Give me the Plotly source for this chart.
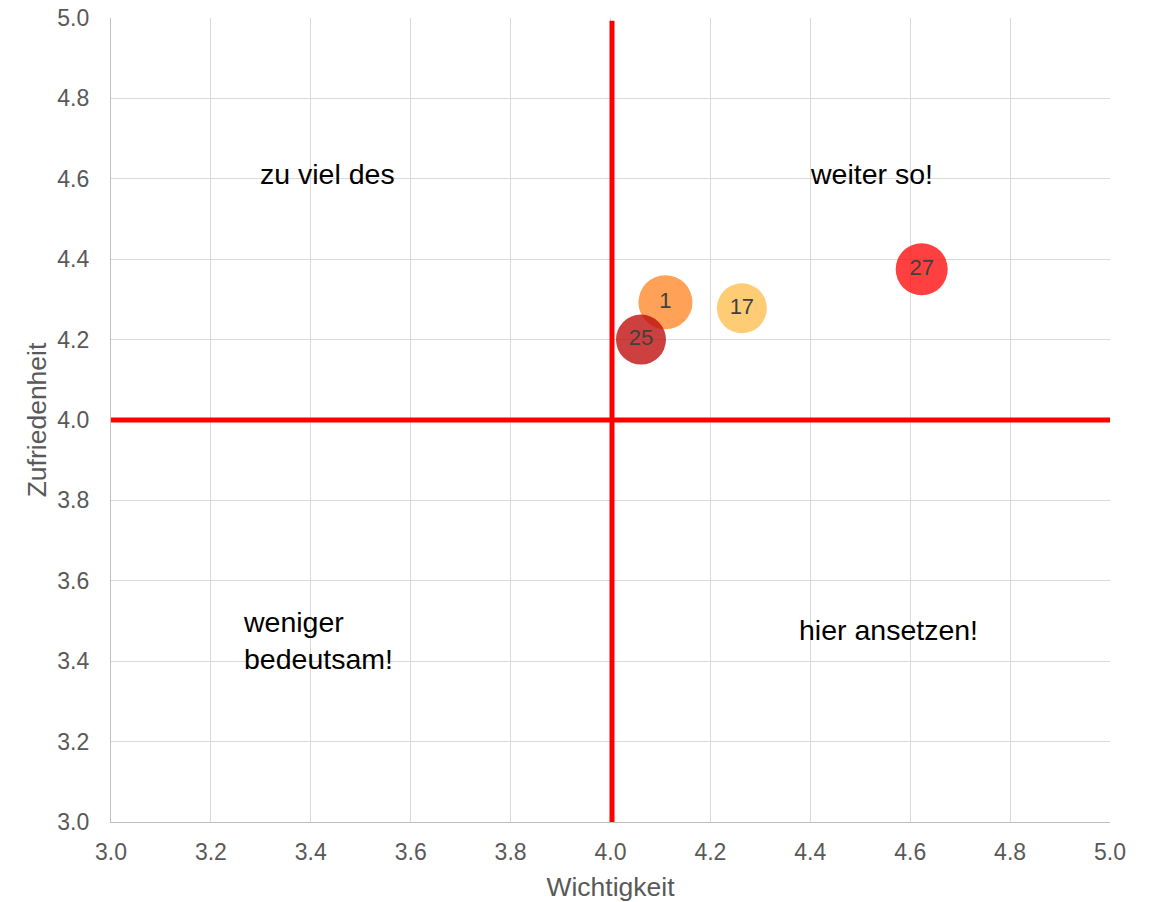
import plotly.graph_objects as go

# Data
labels = ["1", "17", "25", "27"]
wichtigkeit = [4.11, 4.263, 4.061, 4.623]
zufriedenheit = [4.293, 4.278, 4.20, 4.375]
bubble_size = [54, 50, 50, 52]
colors = ["#FF8828", "#FFBE50", "#BE0A0A", "#FF0A0A"]

threshold_x = 4.0
threshold_y = 4.0

quadrant_texts = ["zu viel des", "weiter so!", "weniger<br>bedeutsam!", "hier ansetzen!"]
quadrant_x = [3.434, 4.522, 3.26, 4.556]
quadrant_y = [4.612, 4.612, 3.452, 3.477]
quadrant_anchor = ["center", "center", "left", "center"]

x_ticks = [3.0, 3.2, 3.4, 3.6, 3.8, 4.0, 4.2, 4.4, 4.6, 4.8, 5.0]
y_ticks = [3.0, 3.2, 3.4, 3.6, 3.8, 4.0, 4.2, 4.4, 4.6, 4.8, 5.0]

FONT = "Liberation Sans, Arial, sans-serif"

fig = go.Figure()

# threshold lines
fig.add_trace(go.Scatter(x=[3.0, 5.0], y=[threshold_y, threshold_y], mode="lines",
                         line=dict(color="#FF0000", width=5), hoverinfo="skip",
                         showlegend=False, cliponaxis=False))
fig.add_trace(go.Scatter(x=[threshold_x + 0.003, threshold_x + 0.003], y=[3.0, 4.993], mode="lines",
                         line=dict(color="#FF0000", width=5), hoverinfo="skip",
                         showlegend=False, cliponaxis=False))

for i in range(len(labels)):
    fig.add_trace(go.Scatter(
        x=[wichtigkeit[i]], y=[zufriedenheit[i]], mode="markers+text",
        text=[labels[i]], textposition="middle center",
        textfont=dict(family=FONT, size=22, color="#404040"),
        marker=dict(size=[bubble_size[i]], sizemode="diameter", sizeref=1,
                    color=colors[i], opacity=0.78, line=dict(width=0)),
        showlegend=False))

for t, x, y, a in zip(quadrant_texts, quadrant_x, quadrant_y, quadrant_anchor):
    fig.add_annotation(x=x, y=y, text=t, showarrow=False, xanchor=a, align="left",
                       font=dict(family=FONT, size=28.5, color="#000000"))

axis_common = dict(
    showgrid=True, gridcolor="#D9D9D9", gridwidth=1.3,
    zeroline=False, showline=True, linecolor="#BFBFBF", linewidth=1.3,
    tickfont=dict(family=FONT, size=23, color="#595959"),
    tickformat=".1f", ticks="", automargin=False,
)

fig.update_xaxes(range=[3.0, 5.0], tickvals=x_ticks, ticklabelstandoff=9,
                 title=dict(text="Wichtigkeit", standoff=13,
                            font=dict(family=FONT, size=26.5, color="#595959")),
                 **axis_common)
fig.update_yaxes(range=[3.0, 5.0], tickvals=y_ticks, ticklabelstandoff=16,
                 title=dict(text="Zufriedenheit", standoff=2,
                            font=dict(family=FONT, size=26.5, color="#595959")),
                 **axis_common)

fig.update_layout(
    width=1155, height=902,
    margin=dict(l=111, r=45, t=18, b=80),
    plot_bgcolor="white", paper_bgcolor="white",
    font=dict(family=FONT),
)

fig.write_html("out.html", config={"displayModeBar": False},
               post_script="document.body.style.margin='0';")
